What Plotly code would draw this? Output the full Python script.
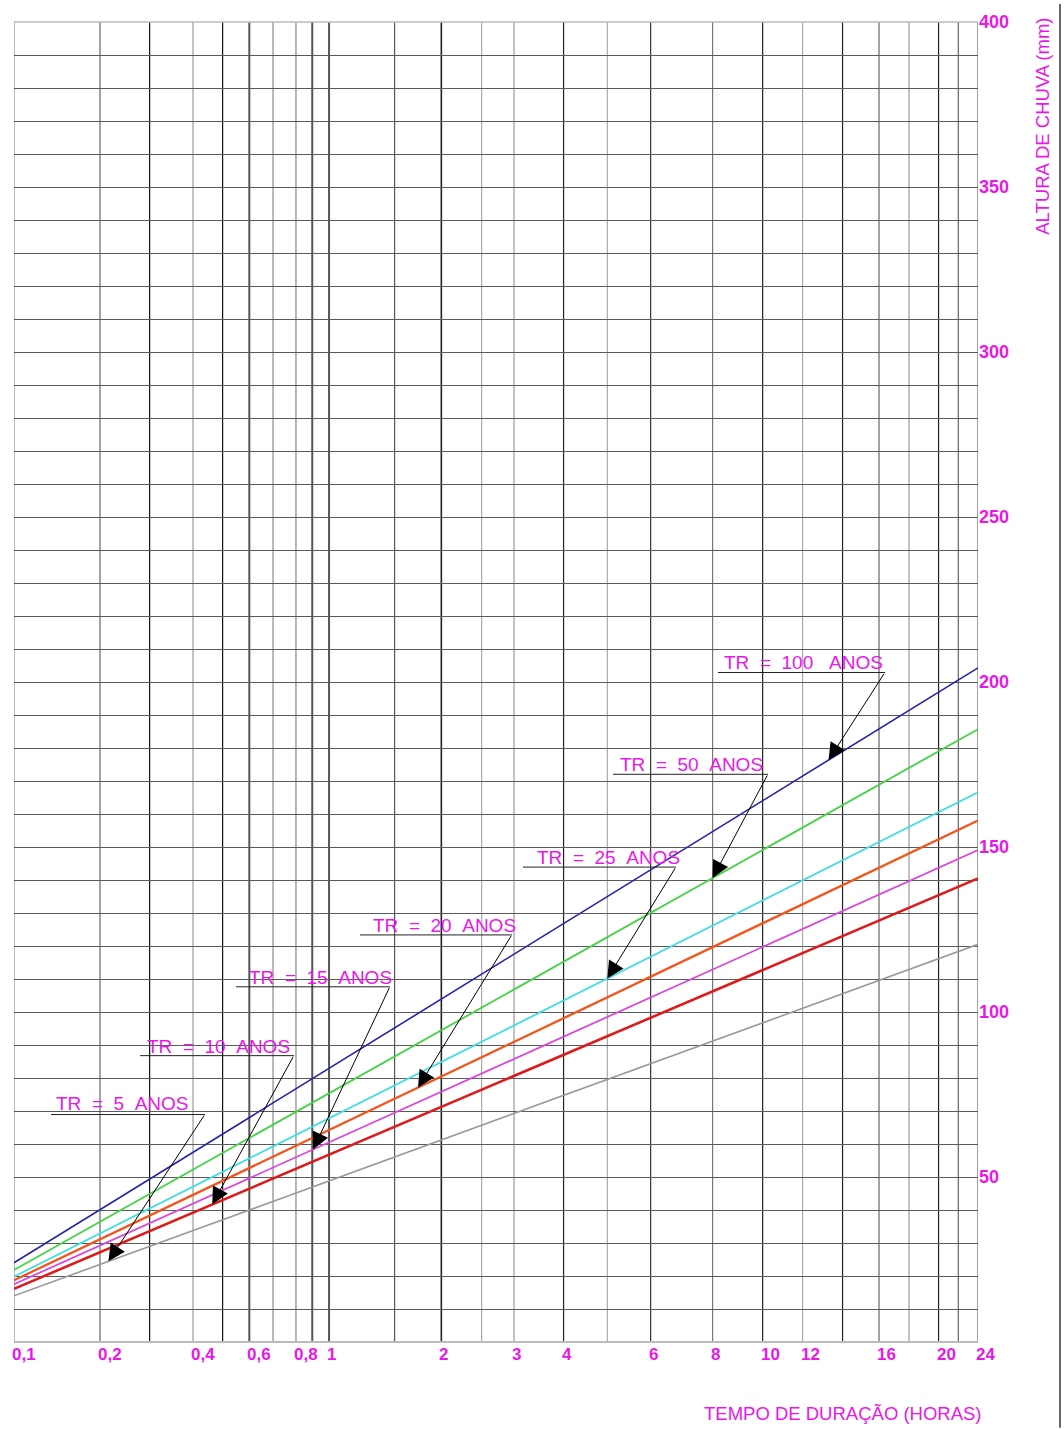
import numpy as np
import plotly.graph_objects as go

# ---------------- data ----------------
TR_YEARS = [100, 50, 25, 20, 15, 10, 5]
LINE_END_HOURS = [0.1, 24]
RAIN_AT_0_1H = [24.0, 21.8, 19.8, 18.7, 17.5, 16.1, 14.0]      # mm at 0.1 h
RAIN_AT_24H = [204.3, 185.7, 166.6, 158.0, 149.1, 140.5, 120.5]  # mm at 24 h
ARROW_TIP_HOURS = [13.3, 8.0, 5.0, 1.75, 0.905, 0.465, 0.217]

GRID_HOURS = [0.1, 0.2, 0.3, 0.4, 0.5, 0.6, 0.7, 0.8, 0.9, 1, 1.5, 2, 2.5, 3, 4, 5, 6,
              8, 10, 12, 14, 16, 18, 20, 22, 24]
X_TICK_HOURS = [0.1, 0.2, 0.4, 0.6, 0.8, 1, 2, 3, 4, 6, 8, 10, 12, 16, 20, 24]
X_TICK_TEXT = ["0,1", "0,2", "0,4", "0,6", "0,8", "1", "2", "3", "4", "6", "8",
               "10", "12", "16", "20", "24"]
Y_TICKS = [50, 100, 150, 200, 250, 300, 350, 400]
Y_RANGE = [0, 400]

# ---------------- scale geometry (printed duration scale) ----------------
SCALE_FRACTION = [0.0, 0.0892, 0.1407, 0.1857, 0.2164, 0.2441, 0.2687, 0.2925, 0.3094,
                  0.3268, 0.3948, 0.4433, 0.4851, 0.5187, 0.5701, 0.6155, 0.6604,
                  0.7247, 0.7766, 0.8180, 0.8595, 0.8973, 0.9284, 0.9591, 0.9796, 1.0]


def xs(h):
    return np.interp(h, GRID_HOURS, SCALE_FRACTION)


# ---------------- styles ----------------
W, H = 1064, 1429
PL, PT, PW, PH = 14, 19, 964, 1323
MAG = "#E817E8"
LINE_COLORS = ["#2424A8", "#46D246", "#40DEDE", "#F0561E", "#DA48DA", "#DC1C1C", "#999999"]
LINE_WIDTHS = [1.6, 1.8, 1.8, 2.3, 1.8, 2.6, 1.6]
GRID_SHADE = {0.1: "#888", 0.2: "#666", 0.3: "#111", 0.4: "#999", 0.5: "#111", 0.6: "#555",
              0.7: "#888", 0.8: "#888", 0.9: "#555", 1: "#555", 1.5: "#555", 2: "#222",
              2.5: "#aaa", 3: "#999", 4: "#222", 5: "#aaa", 6: "#333", 8: "#777",
              10: "#222", 12: "#aaa", 14: "#222", 16: "#666", 18: "#999", 20: "#222",
              22: "#666", 24: "#666"}
GRID_WIDTH = {0.6: 2, 0.9: 2, 1: 2, 2: 1.6}

# label placement (pixels): text left, text centre y, underline x0, x1, y
LABEL_POS = [
    (722, 661, 718, 885, 671),
    (618, 763, 613, 768, 773),
    (535, 856, 523, 676, 866),
    (371, 925, 360, 512, 934),
    (247, 977, 236, 390, 986),
    (145, 1046, 140, 294, 1055),
    (54, 1103, 51, 205, 1114),
]
NB = "\u00a0"


def px2paper_x(px):
    return (px - PL) / PW


def px2paper_y(py):
    return (PT + PH - py) / PH


fig = go.Figure()

shapes = []
for h in GRID_HOURS:
    shapes.append(dict(type="line", xref="x", yref="paper", x0=xs(h), x1=xs(h), y0=0, y1=1,
                       line=dict(color=GRID_SHADE[h], width=GRID_WIDTH.get(h, 1.2)), layer="below"))
shapes.append(dict(type="line", xref="paper", yref="paper", x0=0, x1=1, y0=0, y1=0,
                   line=dict(color="#bbbbbb", width=2), layer="below"))
shapes.append(dict(type="line", xref="paper", yref="paper", x0=0, x1=1, y0=1, y1=1,
                   line=dict(color="#bbbbbb", width=1.5), layer="below"))
shapes.append(dict(type="line", xref="paper", yref="paper", x0=px2paper_x(1060), x1=px2paper_x(1060),
                   y0=px2paper_y(1428), y1=px2paper_y(1), line=dict(color="#666", width=2)))

for i, tr in enumerate(TR_YEARS):
    r = [RAIN_AT_0_1H[i], RAIN_AT_24H[i]]
    fig.add_trace(go.Scatter(x=xs(LINE_END_HOURS), y=r, mode="lines", name=f"TR = {tr} anos",
                             line=dict(color=LINE_COLORS[i], width=LINE_WIDTHS[i]),
                             showlegend=False))

annotations = []
for i, tr in enumerate(TR_YEARS):
    r = [RAIN_AT_0_1H[i], RAIN_AT_24H[i]]
    tx = xs(ARROW_TIP_HOURS[i])
    ty = float(np.interp(tx, xs(LINE_END_HOURS), r))
    tip_px = PL + tx * PW
    tip_py = PT + (Y_RANGE[1] - ty) / (Y_RANGE[1] - Y_RANGE[0]) * PH
    tlx, tly, ux0, ux1, uy = LABEL_POS[i]
    sp2 = NB * 2
    txt = f"TR{sp2}={sp2}{tr}{sp2}{NB if tr == 100 else ''}ANOS"
    annotations.append(dict(x=px2paper_x(tlx), y=px2paper_y(tly), xref="paper", yref="paper",
                            text=txt, showarrow=False, xanchor="left", yanchor="middle",
                            font=dict(family="Liberation Sans, Arial", size=19, color=MAG)))
    shapes.append(dict(type="line", xref="paper", yref="paper", x0=px2paper_x(ux0), x1=px2paper_x(ux1),
                       y0=px2paper_y(uy), y1=px2paper_y(uy), line=dict(color="#222", width=1)))
    annotations.append(dict(x=tx, y=ty, xref="x", yref="y", text="", showarrow=True,
                            ax=ux1 - tip_px, ay=uy - tip_py, axref="pixel", ayref="pixel",
                            arrowhead=2, arrowsize=3.4, arrowwidth=1, arrowcolor="#000",
                            standoff=0))

for h, t in zip(X_TICK_HOURS, X_TICK_TEXT):
    annotations.append(dict(x=xs(h), y=0, xref="x", yref="paper", text=t, showarrow=False,
                            xanchor="left", yanchor="top", xshift=-4, yshift=-1,
                            font=dict(family="Liberation Sans, Arial", size=17, color=MAG,
                                      weight="bold")))

annotations.append(dict(x=px2paper_x(843), y=px2paper_y(1414), xref="paper", yref="paper",
                        xanchor="center", yanchor="middle",
                        text="TEMPO DE DURAÇÃO (HORAS)", showarrow=False,
                        font=dict(family="Liberation Sans, Arial", size=18.5, color=MAG)))
annotations.append(dict(x=px2paper_x(1043), y=px2paper_y(124), xref="paper", yref="paper",
                        xanchor="center", yanchor="middle",
                        text="ALTURA DE CHUVA (mm)", showarrow=False, textangle=-90,
                        font=dict(family="Liberation Sans, Arial", size=18.5, color=MAG)))

fig.update_layout(
    width=W, height=H, autosize=False,
    margin=dict(l=PL, r=W - PL - PW, t=PT, b=H - PT - PH, pad=0),
    plot_bgcolor="white", paper_bgcolor="white",
    shapes=shapes, annotations=annotations,
    xaxis=dict(range=[0, 1], showgrid=False, zeroline=False, showticklabels=False,
               showline=False, fixedrange=True),
    yaxis=dict(range=Y_RANGE, side="right", tickmode="array", tickvals=Y_TICKS,
               ticks="", showgrid=True, gridcolor="#5a5a5a", gridwidth=1, zeroline=False,
               showline=False,
               tickfont=dict(family="Liberation Sans, Arial", size=18, color=MAG, weight="bold"),
               minor=dict(tickmode="linear", tick0=0, dtick=10, showgrid=True,
                          gridcolor="#5a5a5a", gridwidth=1)),
)

fig.write_html("out.html", config={"displayModeBar": False},
               post_script="document.body.style.margin='0';document.body.style.overflow='hidden';")
